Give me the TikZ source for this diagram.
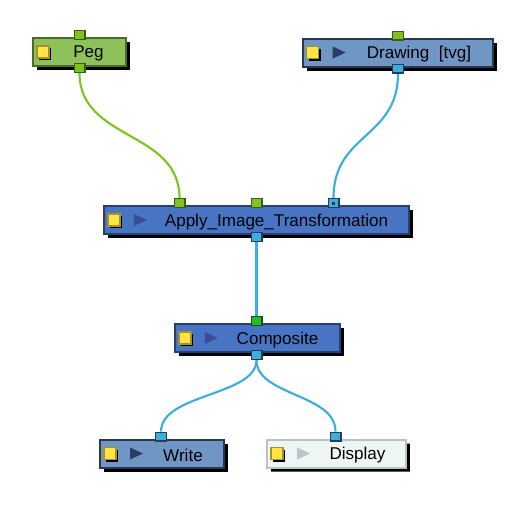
\documentclass[tikz,border=0pt]{standalone}
\usepackage{fontspec}
\setmainfont{Liberation Sans}
\usetikzlibrary{calc, shadows, shapes.misc, backgrounds}
\definecolor{PegFill}{HTML}{8DC15A}
\definecolor{PegEdge}{HTML}{4B6A2B}
\definecolor{ElemFill}{HTML}{7096C6}
\definecolor{ElemEdge}{HTML}{283850}
\definecolor{FxFill}{HTML}{4774C3}
\definecolor{FxEdge}{HTML}{2C3C74}
\definecolor{DispFill}{HTML}{EEF6F5}
\definecolor{DispEdge}{HTML}{B8C3C3}
\definecolor{PortGreen}{HTML}{7DC41F}
\definecolor{PortGreenEdge}{HTML}{3E5A22}
\definecolor{PortBlue}{HTML}{3DAEE0}
\definecolor{PortBlueEdge}{HTML}{2A3A50}
\definecolor{PortComp}{HTML}{1FC01F}
\definecolor{PortCompEdge}{HTML}{1F4A1F}
\definecolor{IconYellow}{HTML}{FFE545}
\definecolor{IconEdge}{HTML}{A69324}
\definecolor{TriDark}{HTML}{2C3D63}
\definecolor{TriBlue}{HTML}{3A4C96}
\definecolor{TriPale}{HTML}{BCC6C6}
\definecolor{WireGreen}{HTML}{7DC620}
\definecolor{WireBlue}{HTML}{3BAEDF}

% yellow swatch and play triangle drawn inside a node
\newcommand{\swatch}[1]{%
  \fill[black] ($(#1.west)+(7,-4)$) rectangle +(12,12);
  \filldraw[fill=IconYellow, draw=IconEdge, line width=1.1pt] ($(#1.west)+(5,-6)$) rectangle +(12,12);}
\newcommand{\playtri}[2]{%
  \fill[#2] ($(#1.west)+(31,-6)$) -- ++(13,6) -- ++(-13,6) -- cycle;}

\begin{document}
\begin{tikzpicture}[x=0.75pt, y=-0.75pt,
        box/.style={rectangle, draw, line width=1.5pt, minimum height=21pt, inner sep=0pt,
            drop shadow={shadow xshift=3pt, shadow yshift=-3pt, fill=black, opacity=1}},
        lbl/.style={inner sep=0pt, text=black, yshift=-1.4pt, font=\fontsize{12.8}{14}\selectfont},
        port/.style={rectangle, draw, line width=1.1pt, minimum width=7.9pt, minimum height=6.4pt, inner sep=0pt},
        wire/.style={line width=1.6pt}]
    \useasboundingbox (0,0) rectangle (528,504);

    \node[box, fill=PegFill, draw=PegEdge, minimum width=70pt] (peg) at (79.5,52) {};
    \node[box, fill=ElemFill, draw=ElemEdge, minimum width=143pt] (drawing) at (398,52.5) {};
    \node[box, fill=FxFill, draw=FxEdge, minimum width=229pt] (apply) at (256.5,220) {};
    \node[box, fill=FxFill, draw=FxEdge, minimum width=124pt] (composite) at (257.5,338) {};
    \node[box, fill=ElemFill, draw=ElemEdge, minimum width=93pt] (write) at (162,453.5) {};
    \node[box, chamfered rectangle, chamfered rectangle corners={north west, north east},
        chamfered rectangle xsep=2.5pt, chamfered rectangle ysep=2.5pt,
        fill=DispFill, draw=DispEdge, minimum width=104pt] (display) at (336.5,453.5) {};

    \swatch{peg}
    \swatch{drawing}   \playtri{drawing}{TriDark}
    \swatch{apply}     \playtri{apply}{TriBlue}
    \swatch{composite} \playtri{composite}{TriBlue}
    \swatch{write}     \playtri{write}{TriDark}
    \swatch{display}   \playtri{display}{TriPale}

    \node[lbl] (peg-text) at ($(peg.center)+(9,0)$) {Peg};
    \node[lbl] (drawing-text) at ($(drawing.center)+(21,0)$) {Drawing\ \ [tvg]};
    \node[lbl] (apply-text) at ($(apply.center)+(20,0)$) {Apply\_Image\_Transformation};
    \node[lbl] (composite-text) at ($(composite.center)+(20,0)$) {Composite};
    \node[lbl] (write-text) at ($(write.center)+(21,0)$) {Write};
    \node[lbl] (display-text) at ($(display.center)+(21,0)$) {Display};

    % ports
    \node[port, fill=PortGreen, draw=PortGreenEdge] (peg-in) at ($(peg.north)+(0,-2)$) {};
    \node[port, fill=PortGreen, draw=PortGreenEdge] (peg-out) at ($(peg.south)+(0,1)$) {};
    \node[port, fill=PortGreen, draw=PortGreenEdge] (drawing-in) at ($(drawing.north)+(0,-2)$) {};
    \node[port, fill=PortBlue, draw=PortBlueEdge] (drawing-out) at ($(drawing.south)+(0,1)$) {};
    \node[port, fill=PortGreen, draw=PortGreenEdge] (apply-in1) at ($(apply.north)+(-77,-2)$) {};
    \node[port, fill=PortGreen, draw=PortGreenEdge] (apply-in2) at ($(apply.north)+(0,-2)$) {};
    \node[port, fill=PortBlue, draw=PortBlueEdge] (apply-in3) at ($(apply.north)+(77,-2)$) {};
    \fill[PortBlueEdge] ($(apply-in3)+(-1.5,-1.5)$) rectangle +(3,3);
    \node[port, fill=PortBlue, draw=PortBlueEdge] (apply-out) at ($(apply.south)+(0,2)$) {};
    \node[port, fill=PortComp, draw=PortCompEdge] (composite-in) at ($(composite.north)+(-1,-2)$) {};
    \node[port, fill=PortBlue, draw=PortBlueEdge] (composite-out) at ($(composite.south)+(-1,2)$) {};
    \node[port, fill=PortBlue, draw=PortBlueEdge] (write-in) at ($(write.north)+(-1,-2)$) {};
    \node[port, fill=PortBlue, draw=PortBlueEdge] (display-in) at ($(display.north)+(-1,-2)$) {};

    \begin{scope}[on background layer]
        \draw[wire, WireGreen] (peg-out.south) .. controls +(0,68) and +(0,-68) .. (apply-in1.north);
        \draw[wire, WireBlue] (drawing-out.south) .. controls +(0,65) and +(0,-65) .. (apply-in3.north);
        \draw[wire, WireBlue] (apply-out.south) -- (composite-in.north);
        \draw[wire, WireBlue] (composite-out.south) .. controls +(0,36) and +(0,-38) .. (write-in.north);
        \draw[wire, WireBlue] (composite-out.south) .. controls +(0,36) and +(0,-38) .. (display-in.north);
    \end{scope}
\end{tikzpicture}
\end{document}
